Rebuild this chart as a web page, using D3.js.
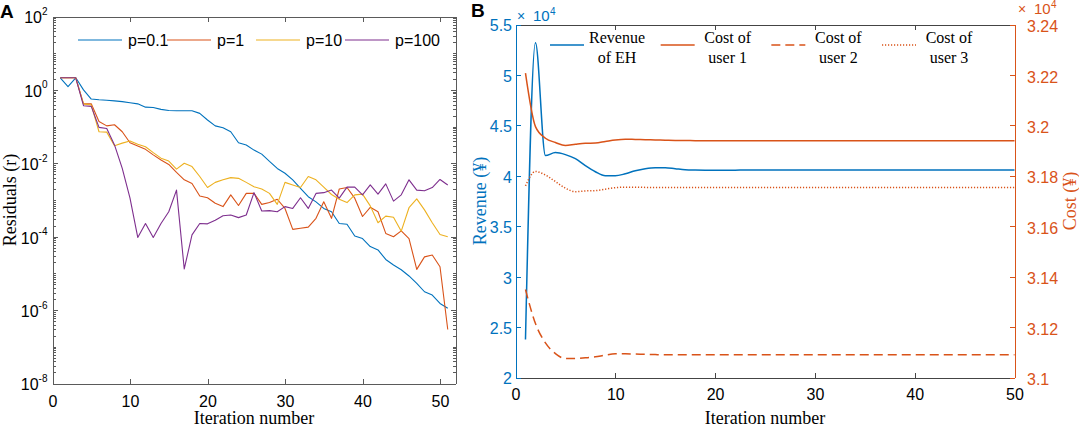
<!DOCTYPE html>
<html>
<head>
<meta charset="utf-8">
<script src="https://cdn.jsdelivr.net/npm/d3@7"></script>
<style>
  body { margin: 0; background: #fff; }
  svg { display: block; }
  .tk text { font-family: "Liberation Sans", Arial, sans-serif; font-size: 16px; }
  .frame path, .frame line { shape-rendering: crispEdges; }
  .lab { font-family: "Liberation Serif", "Times New Roman", serif; font-size: 18px; }
  .leg { font-family: "Liberation Serif", "Times New Roman", serif; font-size: 16px; }
  .legA { font-family: "Liberation Sans", Arial, sans-serif; font-size: 16px; }
</style>
</head>
<body>
<svg id="fig" width="1079" height="428"></svg>
<script>
// ── Data: panel A (log10 of residual r, iterations 1..51) ─────────────────
const iterA = [1,2,3,4,5,6,7,8,9,10,11,12,13,14,15,16,17,18,19,20,21,22,23,24,25,
  26,27,28,29,30,31,32,33,34,35,36,37,38,39,40,41,42,43,44,45,46,47,48,49,50,51];
const pLabels = ['p=0.1', 'p=1', 'p=10', 'p=100'];
const log10P01 = [0.33,0.09,0.33,0.0,-0.25,-0.27,-0.28,-0.30,-0.32,-0.35,
  -0.38,-0.47,-0.48,-0.53,-0.56,-0.57,-0.57,-0.57,-0.64,-0.82,
  -0.98,-1.03,-1.14,-1.44,-1.50,-1.64,-1.75,-1.95,-2.14,-2.27,
  -2.45,-2.68,-2.91,-3.05,-3.23,-3.32,-3.64,-3.66,-3.98,-4.05,
  -4.27,-4.36,-4.62,-4.77,-4.90,-5.07,-5.27,-5.50,-5.59,-5.82,-5.95];
const log10P1 = [0.33,0.33,0.33,-0.38,-0.38,-0.86,-0.98,-0.95,-1.14,-1.44,
  -1.53,-1.62,-1.77,-1.91,-2.03,-2.25,-2.45,-2.55,-2.89,-2.94,
  -3.09,-3.18,-2.86,-3.15,-2.82,-2.82,-3.12,-3.07,-2.98,-3.23,
  -3.80,-3.77,-3.74,-3.50,-3.05,-3.50,-2.70,-2.66,-2.95,-3.45,
  -3.20,-3.32,-3.91,-4.00,-3.84,-4.05,-4.89,-4.55,-4.50,-4.82,-6.53];
const log10P10 = [0.33,0.33,0.33,-0.38,-0.41,-1.14,-1.15,-1.52,-1.45,-1.39,
  -1.48,-1.55,-1.71,-1.86,-1.94,-2.16,-2.00,-2.09,-2.36,-2.66,
  -2.52,-2.45,-2.39,-2.41,-2.52,-2.64,-2.70,-2.82,-3.12,-2.52,
  -2.59,-2.66,-2.36,-2.45,-2.65,-2.85,-2.98,-3.07,-2.86,-2.84,
  -3.16,-3.62,-3.44,-3.47,-3.85,-3.21,-2.97,-3.27,-3.62,-3.94,-4.00];
const log10P100 = [0.33,0.33,0.33,-0.43,-0.45,-1.02,-1.05,-1.50,-2.14,-2.95,
  -4.02,-3.64,-4.02,-3.64,-3.32,-2.73,-4.88,-3.95,-3.64,-3.65,
  -3.55,-3.43,-3.41,-3.48,-3.41,-2.80,-3.30,-3.29,-3.32,-3.18,
  -3.23,-2.94,-3.23,-2.82,-2.80,-2.73,-2.95,-2.65,-2.65,-2.86,
  -2.59,-2.84,-2.56,-3.03,-2.86,-2.45,-2.73,-2.75,-2.66,-2.44,-2.59];
const xTicksA = [0, 10, 20, 30, 40, 50];
const decadesA = [-8, -6, -4, -2, 0, 2];

// ── Data: panel B (¥, iterations 1..50) ───────────────────────────────────
const iterB = [1,2,3,4,5,6,7,8,9,10,11,12,13,14,15,16,17,18,19,20,21,22,23,24,25,
  26,27,28,29,30,31,32,33,34,35,36,37,38,39,40,41,42,43,44,45,46,47,48,49,50];
const revenueEH = [23760,53200,42000,42300,42100,41700,41000,40400,40000,40000,
  40200,40500,40700,40800,40800,40700,40600,40570,40560,40560,
  40560,40560,40570,40570,40570,40570,40570,40570,40570,40570,
  40570,40570,40570,40570,40570,40570,40570,40570,40570,40570,
  40570,40570,40570,40570,40570,40570,40570,40570,40570,40570];
const costUser1 = [32207,31995,31949,31932,31920,31925,31929,31930,31936,31942,
  31945,31944,31943,31942,31941,31940,31940,31939,31939,31939,
  31939,31939,31939,31939,31939,31939,31939,31939,31939,31939,
  31939,31939,31939,31939,31939,31939,31939,31939,31939,31939,
  31939,31939,31939,31939,31939,31939,31939,31939,31939,31939];
const costUser2 = [31349,31214,31137,31095,31075,31075,31078,31082,31089,31094,
  31094,31093,31092,31091,31090,31090,31090,31090,31090,31090,
  31090,31090,31090,31090,31090,31090,31090,31090,31090,31090,
  31090,31090,31090,31090,31090,31090,31090,31090,31090,31090,
  31090,31090,31090,31090,31090,31090,31090,31090,31090,31090];
const costUser3 = [31760,31817,31803,31777,31751,31737,31740,31741,31747,31753,
  31755,31755,31754,31754,31754,31754,31754,31754,31754,31754,
  31754,31754,31754,31754,31754,31754,31754,31754,31754,31754,
  31754,31754,31754,31754,31754,31754,31754,31754,31754,31754,
  31754,31754,31754,31754,31754,31754,31754,31754,31754,31754];
const legendB = [['Revenue', 'of EH'], ['Cost of', 'user 1'], ['Cost of', 'user 2'], ['Cost of', 'user 3']];
const xTicksB = [0, 10, 20, 30, 40, 50];
const yTicksL = [20000, 25000, 30000, 35000, 40000, 45000, 50000, 55000];
const yTicksR = [31000, 31200, 31400, 31600, 31800, 32000, 32200, 32400];

// MATLAB default line colours
const BLUE = '#0072BD', ORANGE = '#D95319', YELLOW = '#EDB120', PURPLE = '#7E2F8E';
const colorsA = [BLUE, ORANGE, YELLOW, PURPLE];
const FRAME = '#5a5a5a';

const svg = d3.select('#fig');

// ── Panel A ───────────────────────────────────────────────────────────────
(() => {
  const x = d3.scaleLinear().domain([0, 52]).range([52.5, 455.5]);
  const y = d3.scaleLog().domain([1e-8, 1e2]).range([383.5, 16.5]);
  const [x0, x1] = x.range(), [yb, yt] = y.range();
  const g = svg.append('g');

  const majors = decadesA.map(e => Math.pow(10, e));
  const minors = [];
  for (let k = -8; k < 2; k++) {
    if (k % 2 !== 0) minors.push(Math.pow(10, k));
    for (let m = 2; m <= 9; m++) minors.push(m * Math.pow(10, k));
  }

  // frame + ticks
  g.append('g').attr('class', 'tk frame').attr('transform', `translate(0,${yb})`)
    .attr('color', FRAME)
    .call(d3.axisBottom(x).tickValues(xTicksA).tickSize(-5).tickSizeOuter(0).tickPadding(12))
    .call(a => a.selectAll('text').attr('fill', '#000'));
  g.append('g').attr('class', 'tk frame').attr('transform', `translate(0,${yt})`)
    .attr('color', FRAME)
    .call(d3.axisTop(x).tickValues(xTicksA).tickSize(-5).tickSizeOuter(0).tickFormat(''));

  const left = g.append('g').attr('class', 'tk frame').attr('transform', `translate(${x0},0)`)
    .attr('color', FRAME)
    .call(d3.axisLeft(y).tickValues(majors).tickSize(-5).tickSizeOuter(0).tickPadding(5));
  left.selectAll('.tick text').each(function (d) {
    const t = d3.select(this).text(null).attr('dy', 6.3).attr('fill', '#000');
    t.append('tspan').text('10');
    t.append('tspan').attr('font-size', 10).attr('dy', -8.3).text(Math.round(Math.log10(d)));
  });
  g.append('g').attr('class', 'frame').attr('transform', `translate(${x0},0)`).attr('color', FRAME)
    .call(d3.axisLeft(y).tickValues(minors).tickSize(-3).tickSizeOuter(0).tickFormat(''))
    .call(a => a.select('.domain').remove());
  g.append('g').attr('class', 'frame').attr('transform', `translate(${x1},0)`).attr('color', FRAME)
    .call(d3.axisRight(y).tickValues(majors).tickSize(-5).tickSizeOuter(0).tickFormat(''));
  g.append('g').attr('class', 'frame').attr('transform', `translate(${x1},0)`).attr('color', FRAME)
    .call(d3.axisRight(y).tickValues(minors).tickSize(-3).tickSizeOuter(0).tickFormat(''))
    .call(a => a.select('.domain').remove());

  // lines
  const series = [log10P01, log10P1, log10P10, log10P100];
  const line = d3.line().x((d, i) => x(iterA[i])).y(d => y(Math.pow(10, d)));
  g.append('g').selectAll('path').data(series).join('path')
    .attr('d', line).attr('fill', 'none')
    .attr('stroke', (d, i) => colorsA[i]).attr('stroke-width', 1.1)
    .attr('stroke-linejoin', 'round');

  // legend (horizontal, no box)
  const lx = d3.scalePoint().domain(pLabels).range([78, 345]);
  const leg = g.append('g').selectAll('g').data(pLabels).join('g')
    .attr('transform', d => `translate(${lx(d)},40)`);
  leg.append('line').attr('x1', 0).attr('x2', 44)
    .attr('stroke', d => colorsA[pLabels.indexOf(d)]).attr('stroke-width', 1.1);
  leg.append('text').attr('class', 'legA').attr('x', 50).attr('y', 6).text(d => d);

  // labels
  g.append('text').attr('class', 'lab').attr('x', x(26)).attr('y', 424)
    .attr('text-anchor', 'middle').text('Iteration number');
  g.append('text').attr('class', 'lab').attr('text-anchor', 'middle')
    .attr('transform', `translate(15.5,${(yb + yt) / 2}) rotate(-90)`).text('Residuals (r)');
  g.append('text').attr('x', 0).attr('y', 18).attr('font-family', 'Liberation Sans, Arial, sans-serif')
    .attr('font-weight', 'bold').attr('font-size', 19).text('A');
})();

// ── Panel B ───────────────────────────────────────────────────────────────
(() => {
  const x = d3.scaleLinear().domain([0, 50]).range([515.5, 1014.5]);
  const yL = d3.scaleLinear().domain([20000, 55000]).range([377.5, 24.5]);
  const yR = d3.scaleLinear().domain([31000, 32400]).range([377.5, 24.5]);
  const [x0, x1] = x.range(), [yb, yt] = yL.range();
  const g = svg.append('g');
  const fmt = v => +(v / 1e4).toFixed(2);

  g.append('g').attr('class', 'tk frame').attr('transform', `translate(0,${yb})`)
    .attr('color', '#444')
    .call(d3.axisBottom(x).tickValues(xTicksB).tickSize(-5).tickSizeOuter(0).tickPadding(11))
    .call(a => a.selectAll('text').attr('fill', '#000'));
  g.append('g').attr('class', 'tk frame').attr('transform', `translate(0,${yt})`)
    .attr('color', '#444')
    .call(d3.axisTop(x).tickValues(xTicksB).tickSize(-5).tickSizeOuter(0).tickFormat(''));
  g.append('g').attr('class', 'tk frame').attr('transform', `translate(${x0},0)`)
    .attr('color', BLUE)
    .call(d3.axisLeft(yL).tickValues(yTicksL).tickFormat(fmt).tickSize(-5).tickSizeOuter(0).tickPadding(3.5))
    .call(a => a.selectAll('text').attr('dy', '0.4em'));
  g.append('g').attr('class', 'tk frame').attr('transform', `translate(${x1},0)`)
    .attr('color', ORANGE)
    .call(d3.axisRight(yR).tickValues(yTicksR).tickFormat(fmt).tickSize(-5).tickSizeOuter(0).tickPadding(12.5))
    .call(a => a.selectAll('text').attr('dy', '0.45em'));

  // ×10^4 multipliers
  const mult = (tx, ty, col) => {
    const m = g.append('g').attr('fill', col).attr('font-family', 'Liberation Sans, Arial, sans-serif');
    m.append('text').attr('x', tx).attr('y', ty).attr('font-size', 14).text('×');
    m.append('text').attr('x', tx + 16).attr('y', ty).attr('font-size', 15).text('10');
    m.append('text').attr('x', tx + 33).attr('y', ty - 6).attr('font-size', 10).text('4');
  };
  mult(517, 21, BLUE);
  mult(1018, 14, ORANGE);

  // lines
  const styles = [
    { v: revenueEH, y: yL, c: BLUE, dash: null },
    { v: costUser1, y: yR, c: ORANGE, dash: null },
    { v: costUser2, y: yR, c: ORANGE, dash: '9,5' },
    { v: costUser3, y: yR, c: ORANGE, dash: '1.2,1.8' }
  ];
  styles.forEach(s => {
    g.append('path').datum(s.v)
      .attr('d', d3.line().curve(d3.curveMonotoneX).x((d, i) => x(iterB[i])).y(d => s.y(d)))
      .attr('fill', 'none').attr('stroke', s.c).attr('stroke-width', 1.5)
      .attr('stroke-dasharray', s.dash);
  });

  // legend
  const lx = d3.scalePoint().domain(d3.range(legendB.length)).range([550, 882]);
  const leg = g.append('g').selectAll('g').data(legendB).join('g')
    .attr('transform', (d, i) => `translate(${lx(i)},45)`);
  const st = d => styles[legendB.indexOf(d)];
  leg.append('line').attr('x1', 0).attr('x2', 34)
    .attr('stroke', d => st(d).c).attr('stroke-width', 1.5)
    .attr('stroke-dasharray', d => st(d).dash);
  leg.append('text').attr('class', 'leg').attr('x', 67).attr('y', -2)
    .attr('text-anchor', 'middle').text(d => d[0]);
  leg.append('text').attr('class', 'leg').attr('x', 67).attr('y', 18)
    .attr('text-anchor', 'middle').text(d => d[1]);

  // labels
  g.append('text').attr('class', 'lab').attr('x', x(25)).attr('y', 424)
    .attr('text-anchor', 'middle').text('Iteration number');
  g.append('text').attr('class', 'lab').attr('text-anchor', 'middle').attr('fill', BLUE)
    .attr('transform', `translate(486,${(yb + yt) / 2}) rotate(-90)`).text('Revenue (¥)');
  g.append('text').attr('class', 'lab').attr('text-anchor', 'middle').attr('fill', ORANGE)
    .attr('transform', `translate(1076,${(yb + yt) / 2}) rotate(-90)`).text('Cost (¥)');
  g.append('text').attr('x', 471).attr('y', 17).attr('font-family', 'Liberation Sans, Arial, sans-serif')
    .attr('font-weight', 'bold').attr('font-size', 19).text('B');
})();
</script>
</body>
</html>
